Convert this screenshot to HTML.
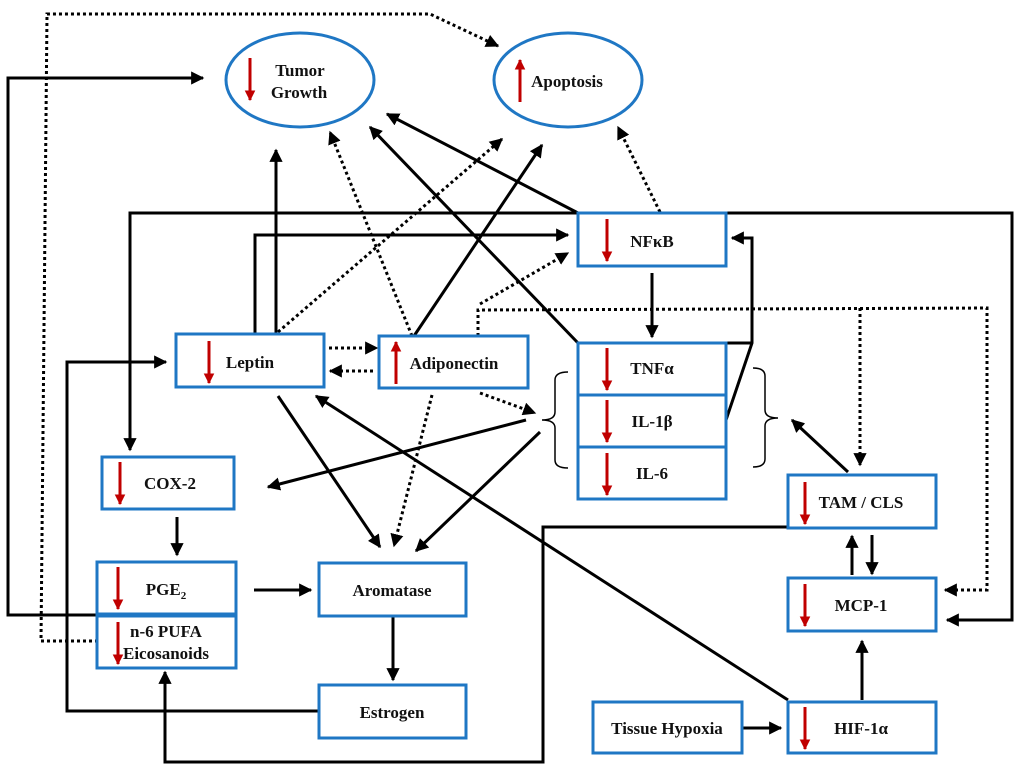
<!DOCTYPE html>
<html><head><meta charset="utf-8"><style>body{margin:0;background:#fff}svg{display:block}text{font-family:"Liberation Serif",serif;font-weight:bold;font-size:17px;fill:#111}</style></head><body>
<svg width="1024" height="772" viewBox="0 0 1024 772" xmlns="http://www.w3.org/2000/svg">
<defs>
<marker id="a" viewBox="0 0 10 10" refX="9" refY="5" markerWidth="4.4" markerHeight="4.4" orient="auto-start-reverse"><path d="M0,0L10,5L0,10z" fill="#000"/></marker>
<marker id="r" viewBox="0 0 10 10" refX="9" refY="5" markerWidth="3.6" markerHeight="3.6" orient="auto"><path d="M0,0L10,5L0,10z" fill="#c00000"/></marker>
</defs>
<g fill="none" stroke="#000" stroke-width="3">
<polyline points="98,615 8,615 8,78 203,78" marker-end="url(#a)"/>
<polyline points="578,213 130,213 130,450" marker-end="url(#a)"/>
<polyline points="726,213 1012,213 1012,620 947,620" marker-end="url(#a)"/>
<polyline points="255,334 255,235 568,235" marker-end="url(#a)"/>
<line x1="276" y1="334" x2="276" y2="150" marker-end="url(#a)"/>
<line x1="414" y1="336" x2="542" y2="145" marker-end="url(#a)"/>
<line x1="578" y1="213" x2="387" y2="114" marker-end="url(#a)"/>
<line x1="578" y1="343" x2="370" y2="127" marker-end="url(#a)"/>
<line x1="652" y1="273" x2="652" y2="337" marker-end="url(#a)"/>
<polyline points="726,420 752,343 752,238 732,238" marker-end="url(#a)"/>
<line x1="726" y1="343" x2="752" y2="343"/>
<line x1="526" y1="420" x2="268" y2="487" marker-end="url(#a)"/>
<line x1="540" y1="432" x2="416" y2="551" marker-end="url(#a)"/>
<line x1="278" y1="396" x2="380" y2="547" marker-end="url(#a)"/>
<line x1="848" y1="472" x2="792" y2="420" marker-end="url(#a)"/>
<line x1="788" y1="700" x2="316" y2="396" marker-end="url(#a)"/>
<polyline points="788,527 543,527 543,762 165,762 165,672" marker-end="url(#a)"/>
<polyline points="319,711 67,711 67,362 166,362" marker-end="url(#a)"/>
<line x1="177" y1="517" x2="177" y2="555" marker-end="url(#a)"/>
<line x1="254" y1="590" x2="311" y2="590" marker-end="url(#a)"/>
<line x1="393" y1="616" x2="393" y2="680" marker-end="url(#a)"/>
<line x1="852" y1="575" x2="852" y2="536" marker-end="url(#a)"/>
<line x1="872" y1="535" x2="872" y2="574" marker-end="url(#a)"/>
<line x1="862" y1="700" x2="862" y2="641" marker-end="url(#a)"/>
<line x1="742" y1="728" x2="781" y2="728" marker-end="url(#a)"/>
</g>
<g fill="none" stroke="#000" stroke-width="3" stroke-dasharray="3,3">
<polyline points="98,641 41,641 47,14 430,14 498,46" marker-end="url(#a)"/>
<line x1="278" y1="332" x2="502" y2="139" marker-end="url(#a)"/>
<line x1="412" y1="336" x2="330" y2="132" marker-end="url(#a)"/>
<line x1="660" y1="212" x2="618" y2="127" marker-end="url(#a)"/>
<polyline points="478,336 478,310 987,308 987,590 945,590" marker-end="url(#a)"/>
<line x1="860" y1="308" x2="860" y2="465" marker-end="url(#a)"/>
<line x1="480" y1="304" x2="568" y2="253" marker-end="url(#a)"/>
<line x1="329" y1="348" x2="377" y2="348" marker-end="url(#a)"/>
<line x1="373" y1="371" x2="330" y2="371" marker-end="url(#a)"/>
<line x1="480" y1="393" x2="535" y2="413" marker-end="url(#a)"/>
<line x1="432" y1="395" x2="394" y2="546" marker-end="url(#a)"/>
</g>
<g fill="none" stroke="#000" stroke-width="1.5">
<path d="M568,372 Q555,372 555,380 L555,412 Q555,420 542,420 Q555,420 555,428 L555,460 Q555,468 568,468"/>
<path d="M753,368 Q765,368 765,376 L765,410 Q765,418 778,418 Q765,418 765,426 L765,459 Q765,467 753,467"/>
</g>
<g fill="#fff" stroke="#1f77c4" stroke-width="3">
<ellipse cx="300" cy="80" rx="74" ry="47"/>
<ellipse cx="568" cy="80" rx="74" ry="47"/>
<rect x="578" y="213" width="148" height="53"/>
<rect x="578" y="343" width="148" height="52"/>
<rect x="578" y="395" width="148" height="52"/>
<rect x="578" y="447" width="148" height="52"/>
<rect x="176" y="334" width="148" height="53"/>
<rect x="379" y="336" width="149" height="52"/>
<rect x="102" y="457" width="132" height="52"/>
<rect x="97" y="562" width="139" height="52"/>
<rect x="97" y="616" width="139" height="52"/>
<rect x="319" y="563" width="147" height="53"/>
<rect x="319" y="685" width="147" height="53"/>
<rect x="788" y="475" width="148" height="53"/>
<rect x="788" y="578" width="148" height="53"/>
<rect x="593" y="702" width="149" height="51"/>
<rect x="788" y="702" width="148" height="51"/>
</g>
<g stroke="#c00000" stroke-width="3" marker-end="url(#r)">
<line x1="250" y1="58" x2="250" y2="100"/>
<line x1="520" y1="102" x2="520" y2="60"/>
<line x1="607" y1="219" x2="607" y2="261"/>
<line x1="607" y1="348" x2="607" y2="390"/>
<line x1="607" y1="400" x2="607" y2="442"/>
<line x1="607" y1="453" x2="607" y2="495"/>
<line x1="209" y1="341" x2="209" y2="383"/>
<line x1="396" y1="384" x2="396" y2="342"/>
<line x1="120" y1="462" x2="120" y2="504"/>
<line x1="118" y1="567" x2="118" y2="609"/>
<line x1="118" y1="622" x2="118" y2="664"/>
<line x1="805" y1="482" x2="805" y2="524"/>
<line x1="805" y1="584" x2="805" y2="626"/>
<line x1="805" y1="707" x2="805" y2="749"/>
</g>
<g text-anchor="middle">
<text x="300" y="76">Tumor</text><text x="299" y="98">Growth</text>
<text x="567" y="87">Apoptosis</text>
<text x="652" y="247">NFκB</text>
<text x="652" y="374">TNFα</text>
<text x="652" y="427">IL-1β</text>
<text x="652" y="479">IL-6</text>
<text x="250" y="368">Leptin</text>
<text x="454" y="369">Adiponectin</text>
<text x="170" y="489">COX-2</text>
<text x="166" y="595">PGE<tspan font-size="11" dy="4">2</tspan></text>
<text x="166" y="637">n-6 PUFA</text><text x="166" y="659">Eicosanoids</text>
<text x="392" y="596">Aromatase</text>
<text x="392" y="718">Estrogen</text>
<text x="861" y="508">TAM / CLS</text>
<text x="861" y="611">MCP-1</text>
<text x="667" y="734">Tissue Hypoxia</text>
<text x="861" y="734">HIF-1α</text>
</g>
</svg>
</body></html>
